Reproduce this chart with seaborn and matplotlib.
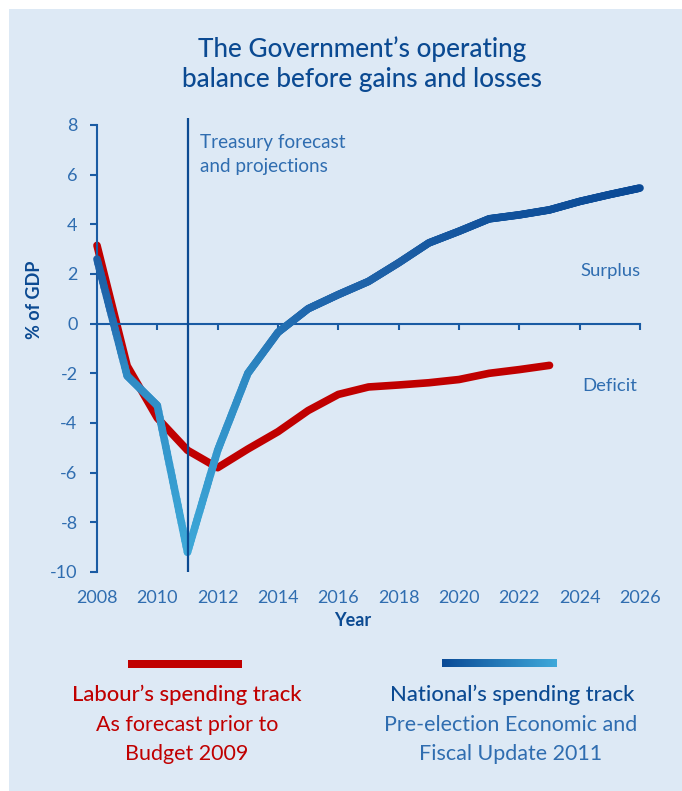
import numpy as np
import pandas as pd
import matplotlib
matplotlib.use("Agg")
import matplotlib.pyplot as plt
import seaborn as sns
from matplotlib.collections import LineCollection
from matplotlib.colors import LinearSegmentedColormap
from matplotlib.patches import Rectangle

# ---------------- data ----------------
labour_years = list(range(2008, 2024))
labour_values = [3.15, -1.7, -3.8, -5.1, -5.8, -5.05, -4.35, -3.5, -2.85, -2.55,
                 -2.47, -2.38, -2.25, -2.0, -1.85, -1.68]
national_years = list(range(2008, 2027))
national_values = [2.6, -2.1, -3.3, -9.2, -5.1, -2.0, -0.35, 0.6, 1.17, 1.7, 2.45,
                   3.25, 3.72, 4.22, 4.38, 4.58, 4.92, 5.2, 5.46]
x_ticks = list(range(2008, 2027, 2))
y_ticks = list(range(-10, 9, 2))
y_tick_labels = [str(v) for v in y_ticks]

# ---------------- style ----------------
BG = "#dde9f5"
RED = "#c00000"
DARK = "#0b4a92"
MID = "#2f6db0"
AX = "#1a5ba3"

sns.set_theme(style="white")
plt.rcParams["font.family"] = ["Lato", "DejaVu Sans"]
plt.rcParams["axes.unicode_minus"] = False

fig = plt.figure(figsize=(6.82, 7.91), dpi=100)
fig.patch.set_facecolor("white")
fig.patches.append(Rectangle((9 / 682, 0), 1 - 9 / 682, (791 - 9) / 791,
                             transform=fig.transFigure, facecolor=BG,
                             edgecolor="none", zorder=-10))

ax = fig.add_axes([97 / 682, (791 - 572) / 791, (640 - 97) / 682, (572 - 117.5) / 791])
ax.set_facecolor("none")

# Labour line
df_l = pd.DataFrame({"year": labour_years, "value": labour_values})
sns.lineplot(data=df_l, x="year", y="value", ax=ax, color=RED, linewidth=5.5,
             solid_capstyle="round", solid_joinstyle="round", zorder=2, clip_on=False)

# National line with vertical gradient (colour by height)
cmap = LinearSegmentedColormap.from_list(
    "nat", [(0.0, "#3da8d8"), (0.49, "#2e8ac4"), (0.66, "#2068ae"),
            (0.80, "#1d5fa5"), (1.0, "#0a4a96")])
vmin, vmax = min(national_values), max(national_values)
segs, cols = [], []
for i in range(len(national_years) - 1):
    x0, x1 = national_years[i], national_years[i + 1]
    y0, y1 = national_values[i], national_values[i + 1]
    n = 25
    ts = np.linspace(0, 1, n + 1)
    for a, b in zip(ts[:-1], ts[1:]):
        xa, ya = x0 + (x1 - x0) * a, y0 + (y1 - y0) * a
        xb, yb = x0 + (x1 - x0) * b, y0 + (y1 - y0) * b
        segs.append([(xa, ya), (xb, yb)])
        cols.append(cmap(((ya + yb) / 2 - vmin) / (vmax - vmin)))
lc = LineCollection(segs, colors=cols, linewidths=5.5, capstyle="round",
                    joinstyle="round", zorder=3, clip_on=False)
ax.add_collection(lc)

# forecast divider
ax.axvline(2011, ymin=0, ymax=1, color=DARK, linewidth=1.6, zorder=4)

ax.set_xlim(2008, 2026)
ax.set_ylim(-10, 8.3)

# spines
for s in ["top", "right"]:
    ax.spines[s].set_visible(False)
ax.spines["left"].set_bounds(-10, 8)
ax.spines["left"].set_color(AX)
ax.spines["left"].set_linewidth(1.5)
ax.spines["bottom"].set_position(("data", 0))
ax.spines["bottom"].set_bounds(2008, 2026)
ax.spines["bottom"].set_color(AX)
ax.spines["bottom"].set_linewidth(1.5)

ax.set_yticks(y_ticks)
ax.set_yticklabels(y_tick_labels)
ax.set_xticks(x_ticks)
ax.tick_params(axis="y", left=True, direction="out", length=5, width=1.5,
               color=AX, labelcolor=MID, labelsize=13, pad=9)
ax.tick_params(axis="x", bottom=True, direction="out", length=4.5, width=1.5,
               color=AX, labelbottom=False)
ax.set_xlabel("")
ax.set_ylabel("% of GDP", fontsize=13, fontweight="bold", color=DARK)
ax.yaxis.set_label_coords((43 - 97) / 543, (572 - 300) / 454.5)

sec = ax.secondary_xaxis("bottom")
sec.set_xticks(x_ticks)
sec.set_xticklabels([str(v) for v in x_ticks])
sec.tick_params(length=0, pad=13, labelsize=13, labelcolor=MID)
sec.spines["bottom"].set_visible(False)

renderer = fig.canvas.get_renderer()


def fit(texts, target):
    w = max(t.get_window_extent(renderer).width for t in texts)
    for t in texts:
        t.set_fontsize(t.get_fontsize() * target / w)


t1 = ax.text(2011.41, 7.62, "Treasury forecast\nand projections", ha="left", va="top",
             color=MID, fontsize=12, linespacing=1.45)
fit([t1], 145)
t2 = ax.text(2026.03, 2.13, "Surplus", ha="right", va="center", color=MID, fontsize=12)
t3 = ax.text(2025.9, -2.5, "Deficit", ha="right", va="center", color=MID, fontsize=12)
fit([t2], 60)
t3.set_fontsize(t2.get_fontsize())

# overlay in pixel coordinates for title and legend
ov = fig.add_axes([0, 0, 1, 1], zorder=5)
ov.set_facecolor("none")
ov.axis("off")
grad = np.linspace(1, 0, 256)[None, :]
bar_cmap = LinearSegmentedColormap.from_list("bar", ["#3fa9da", "#0a4a96"])
ov.imshow(grad, extent=(442, 557, 667.5, 660), cmap=bar_cmap, aspect="auto",
          vmin=0, vmax=1, interpolation="bilinear")
ov.add_patch(Rectangle((128, 660), 114, 7.5, facecolor=RED, edgecolor="none"))
ov.set_xlim(0, 682)
ov.set_ylim(791, 0)

ov.text(353, 620, "Year", ha="center", va="center", color=DARK, fontsize=13,
        fontweight="bold")

ta = ov.text(362, 57, "The Government\u2019s operating", ha="center", va="baseline",
             color=DARK, fontsize=18, fontweight="medium")
tb = ov.text(362, 87, "balance before gains and losses", ha="center", va="baseline",
             color=DARK, fontsize=18, fontweight="medium")
fit([tb], 362)
ta.set_fontsize(tb.get_fontsize())

h1 = ov.text(187, 695, "Labour\u2019s spending track", ha="center", va="center",
             color=RED, fontsize=14, fontweight="medium")
h2 = ov.text(512, 695, "National\u2019s spending track", ha="center", va="center",
             color=DARK, fontsize=14, fontweight="medium")
fit([h2], 245)
h1.set_fontsize(h2.get_fontsize())

s1 = ov.text(187, 725, "As forecast prior to", ha="center", va="center",
             color=RED, fontsize=13, fontweight="normal")
s2 = ov.text(187, 754, "Budget 2009", ha="center", va="center",
             color=RED, fontsize=13, fontweight="normal")
s3 = ov.text(511, 725, "Pre-election Economic and", ha="center", va="center",
             color=MID, fontsize=13, fontweight="normal")
s4 = ov.text(511, 754, "Fiscal Update 2011", ha="center", va="center",
             color=MID, fontsize=13, fontweight="normal")
fit([s3], 253)
for t in (s1, s2, s4):
    t.set_fontsize(s3.get_fontsize())

fig.savefig("out.png", dpi=100, facecolor="white")
